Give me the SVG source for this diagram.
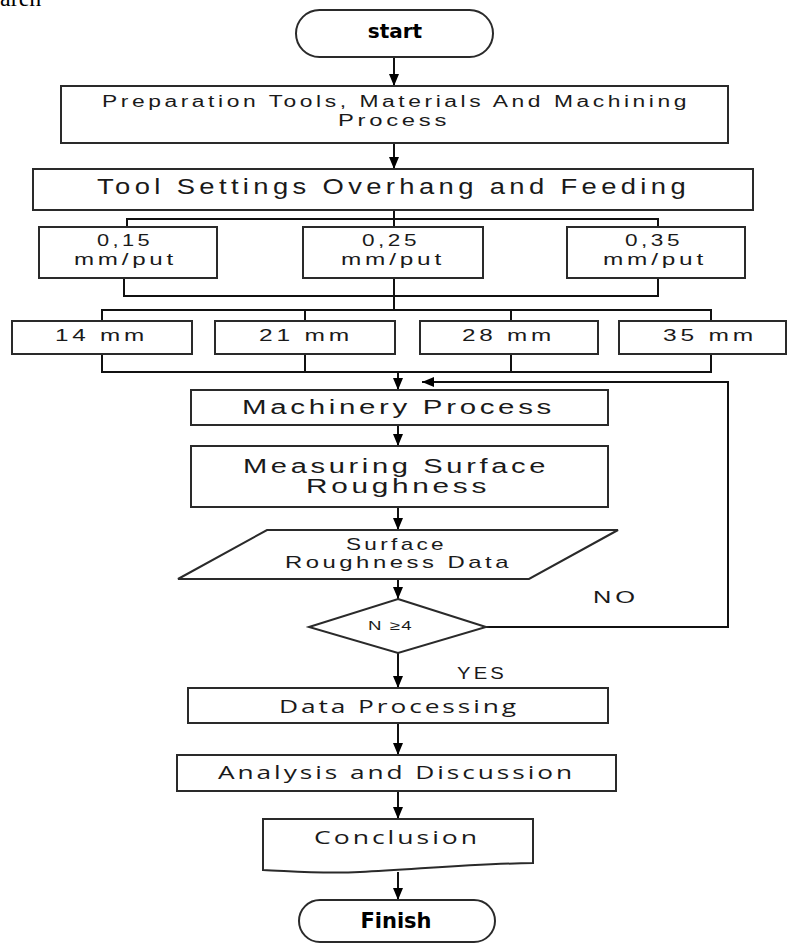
<svg xmlns="http://www.w3.org/2000/svg" width="787" height="944" viewBox="0 0 787 944">
<style>
.box{fill:#fff;stroke:#2a2a2a;stroke-width:2}
.t{font-family:"Liberation Sans",Arial,sans-serif;fill:#1a1a1a;letter-spacing:2.5px}
.b{font-family:"DejaVu Sans","Liberation Sans",sans-serif;font-weight:bold;fill:#000}
.c{font-family:"Open Sans","Liberation Sans",sans-serif;fill:#1a1a1a;letter-spacing:2px}
.ln{fill:none;stroke:#111;stroke-width:2}
.ar{fill:none;stroke:#111;stroke-width:2;marker-end:url(#ah)}
</style>
<defs>
<marker id="ah" viewBox="0 0 12 10" refX="12" refY="5" markerWidth="13" markerHeight="10" markerUnits="userSpaceOnUse" orient="auto">
<path d="M0,0 L12,5 L0,10 z" fill="#000"/>
</marker>
</defs>
<rect width="787" height="944" fill="#fff"/>
<text x="0" y="6" font-family="Liberation Serif,serif" font-size="24" fill="#000">aren</text>

<g id="connectors">
<line class="ar" x1="394" y1="57" x2="394" y2="86"/>
<line class="ar" x1="394" y1="143" x2="394" y2="169"/>
<polyline class="ln" points="394,210 394,219"/>
<polyline class="ln" points="127,227 127,219 658,219 658,227"/>
<line class="ln" x1="394" y1="219" x2="394" y2="227"/>
<polyline class="ln" points="124,278 124,296 658,296 658,278"/>
<line class="ln" x1="394" y1="278" x2="394" y2="310"/>
<polyline class="ln" points="102,321 102,310 711,310 711,321"/>
<line class="ln" x1="305" y1="310" x2="305" y2="321"/>
<line class="ln" x1="511" y1="310" x2="511" y2="321"/>
<polyline class="ln" points="102,354 102,372 711,372 711,354"/>
<line class="ln" x1="305" y1="354" x2="305" y2="372"/>
<line class="ln" x1="511" y1="354" x2="511" y2="372"/>
<line class="ar" x1="398" y1="372" x2="398" y2="390"/>
<line class="ar" x1="398" y1="425" x2="398" y2="446"/>
<line class="ar" x1="398" y1="507" x2="398" y2="530"/>
<line class="ar" x1="398" y1="579" x2="398" y2="599"/>
<polyline class="ar" points="486,627 728,627 728,382 422,382"/>
<line class="ar" x1="398" y1="653" x2="398" y2="688"/>
<line class="ar" x1="398" y1="723" x2="398" y2="755"/>
<line class="ar" x1="398" y1="791" x2="398" y2="819"/>
<line class="ar" x1="398" y1="872" x2="398" y2="900"/>
</g>

<g id="start">
<rect class="box" x="296" y="10" width="197" height="47" rx="23.5"/>
<text class="b" x="395" y="38" font-size="20" text-anchor="middle">start</text>
</g>
<g id="preparation">
<rect class="box" x="61" y="86" width="667" height="57"/>
<text class="t" x="102" y="107" font-size="16" textLength="588" lengthAdjust="spacingAndGlyphs">Preparation Tools, Materials And Machining</text>
<text class="t" x="338" y="126" font-size="16" textLength="112" lengthAdjust="spacingAndGlyphs">Process</text>
</g>
<g id="toolsettings">
<rect class="box" x="33" y="169" width="720" height="41"/>
<text class="t" x="97" y="194" font-size="22" textLength="593" lengthAdjust="spacingAndGlyphs" style="letter-spacing:3.5px">Tool Settings Overhang and Feeding</text>
</g>
<g id="feed015">
<rect class="box" x="39" y="227" width="178" height="51"/>
<text class="t" x="97" y="246" font-size="16" textLength="56" lengthAdjust="spacingAndGlyphs">0,15</text>
<text class="t" x="74" y="265" font-size="16" textLength="103" lengthAdjust="spacingAndGlyphs">mm/put</text>
</g>
<g id="feed025">
<rect class="box" x="303" y="227" width="180" height="51"/>
<text class="t" x="362" y="246" font-size="16" textLength="58" lengthAdjust="spacingAndGlyphs">0,25</text>
<text class="t" x="341" y="265" font-size="16" textLength="104" lengthAdjust="spacingAndGlyphs">mm/put</text>
</g>
<g id="feed035">
<rect class="box" x="567" y="227" width="178" height="51"/>
<text class="t" x="625" y="246" font-size="16" textLength="58" lengthAdjust="spacingAndGlyphs">0,35</text>
<text class="t" x="603" y="265" font-size="16" textLength="104" lengthAdjust="spacingAndGlyphs">mm/put</text>
</g>
<g id="oh14">
<rect class="box" x="12" y="321" width="180" height="33"/>
<text class="t" x="55" y="341" font-size="16" textLength="93" lengthAdjust="spacingAndGlyphs">14 mm</text>
</g>
<g id="oh21">
<rect class="box" x="215" y="321" width="180" height="33"/>
<text class="t" x="259" y="341" font-size="16" textLength="94" lengthAdjust="spacingAndGlyphs">21 mm</text>
</g>
<g id="oh28">
<rect class="box" x="420" y="321" width="178" height="33"/>
<text class="t" x="462" y="341" font-size="16" textLength="93" lengthAdjust="spacingAndGlyphs">28 mm</text>
</g>
<g id="oh35">
<rect class="box" x="619" y="321" width="167" height="33"/>
<text class="t" x="663" y="341" font-size="16" textLength="94" lengthAdjust="spacingAndGlyphs">35 mm</text>
</g>
<g id="machinery">
<rect class="box" x="191" y="390" width="417" height="35"/>
<text class="t" x="242" y="414" font-size="20" textLength="313" lengthAdjust="spacingAndGlyphs">Machinery Process</text>
</g>
<g id="measuring">
<rect class="box" x="191" y="446" width="417" height="61"/>
<text class="t" x="243" y="473" font-size="20" textLength="306" lengthAdjust="spacingAndGlyphs">Measuring Surface</text>
<text class="t" x="306" y="493" font-size="20" textLength="184" lengthAdjust="spacingAndGlyphs">Roughness</text>
</g>
<g id="data">
<polygon class="box" points="267,530 618,530 529,579 178,579" stroke-width="1.5" stroke="#555"/>
<text class="t" x="346" y="550" font-size="17" textLength="101" lengthAdjust="spacingAndGlyphs">Surface</text>
<text class="t" x="285" y="568" font-size="17" textLength="227" lengthAdjust="spacingAndGlyphs">Roughness Data</text>
</g>
<g id="decision">
<polygon class="box" points="398,599 486,627 398,653 309,627" stroke-width="1.5" stroke="#555"/>
<text class="t" x="368" y="630" font-size="13" textLength="45" lengthAdjust="spacingAndGlyphs" style="letter-spacing:1px">N ≥4</text>
</g>
<text class="t" x="593" y="603" font-size="16" textLength="46" lengthAdjust="spacingAndGlyphs">NO</text>
<text class="t" x="457" y="679" font-size="16" textLength="50" lengthAdjust="spacingAndGlyphs">YES</text>
<g id="processing">
<rect class="box" x="188" y="688" width="420" height="35"/>
<text class="c" x="279" y="713" font-size="18" textLength="240" lengthAdjust="spacingAndGlyphs">Data Processing</text>
</g>
<g id="analysis">
<rect class="box" x="177" y="755" width="439" height="36"/>
<text class="c" x="218" y="779" font-size="18" textLength="357" lengthAdjust="spacingAndGlyphs">Analysis and Discussion</text>
</g>
<g id="conclusion">
<path class="box" d="M263,819 L533,819 L533,863 C470,864 420,869 360,872 C320,874 290,871 263,870 Z"/>
<text class="c" x="314" y="844" font-size="18" textLength="166" lengthAdjust="spacingAndGlyphs">Conclusion</text>
</g>
<g id="finish">
<rect class="box" x="299" y="900" width="196" height="42" rx="21"/>
<text class="b" x="396" y="928" font-size="21" text-anchor="middle">Finish</text>
</g>
</svg>
